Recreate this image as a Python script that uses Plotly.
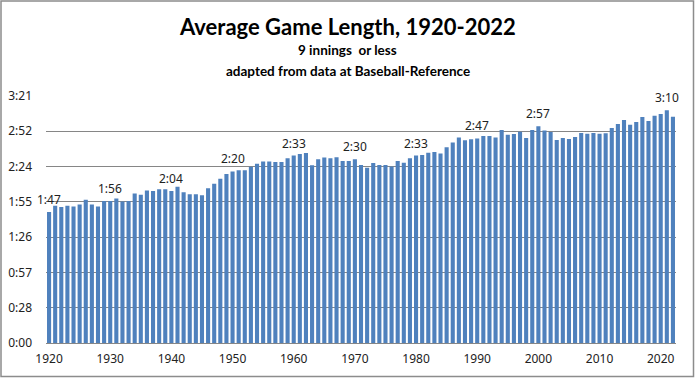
import plotly.graph_objects as go

years = list(range(1920, 2023))
avg_minutes = [
    107, 112, 111, 112, 111.5, 113, 117, 113, 111.5, 116,          # 1920s
    116, 118, 115.5, 116, 122, 121, 124.5, 124, 125.5, 125.5,      # 1930s
    124, 127.5, 123, 121.5, 121.5, 120.5, 126.3, 130, 134, 138,    # 1940s
    140, 141, 141, 143.8, 146.3, 148.2, 148.2, 147.7, 147.7, 150.7,  # 1950s
    153, 154.2, 155, 145, 150, 151.5, 150.7, 151.7, 148.5, 148.5,  # 1960s
    150, 145.2, 143, 146.9, 145.2, 145.2, 144.1, 148.5, 147.1, 150.7,  # 1970s
    153, 153.4, 155.3, 155.8, 154.7, 159.7, 163.7, 167.8, 165.4, 166.2,  # 1980s
    167, 168.9, 168.9, 167.8, 173.8, 170, 170.5, 172.4, 167.3, 173.8,  # 1990s
    177, 173.5, 172.2, 165.7, 167.3, 166.5, 168.1, 171.4, 170.8, 171.4,  # 2000s
    170.8, 171.1, 175.5, 178.7, 182, 178.2, 180.4, 184.4, 181.2, 185.5,  # 2010s
    187, 190, 184.7,                                                # 2020s
]

label_years = [1920, 1930, 1940, 1950, 1960, 1970, 1980, 1990, 2000, 2021]
label_texts = ["1:47", "1:56", "2:04", "2:20", "2:33", "2:30", "2:33", "2:47", "2:57", "3:10"]

y_tick_vals = [0, 28.8, 57.6, 86.4, 115.2, 144.0, 172.8, 201.6]
y_tick_text = ["0:00", "0:28", "0:57", "1:26", "1:55", "2:24", "2:52", "3:21"]
x_tick_vals = list(range(1920, 2021, 10))

title_lines = ["Average Game Length, 1920-2022", "9 innings  or less",
               "adapted from data at Baseball-Reference"]

W, H = 695, 378
ML, MR, MT, MB = 46, 19, 96, 35
PH = H - MT - MB
PW = W - ML - MR


def py(px):
    return 1 - (px - MT) / PH


def pxx(px):
    return (px - ML) / PW


fig = go.Figure()
fig.add_trace(go.Bar(
    x=years, y=avg_minutes,
    marker=dict(color="#4F81BD", line=dict(width=0)),
    hoverinfo="skip",
))

for yr, txt in zip(label_years, label_texts):
    fig.add_annotation(
        x=yr, y=avg_minutes[years.index(yr)], text=txt, showarrow=False,
        yanchor="bottom", yshift=2,
        font=dict(family="Noto Sans", size=12, color="#222222"),
    )

title_specs = [(title_lines[0], 27, 22), (title_lines[1], 50, 13.5), (title_lines[2], 71, 13.5)]
for txt, ypix, fs in title_specs:
    fig.add_annotation(
        x=pxx(W / 2), xref="paper", y=py(ypix), yref="paper",
        text="<b>" + txt + "</b>", showarrow=False,
        xanchor="center", yanchor="middle",
        font=dict(family="Lato", size=fs, color="#000000"),
    )

fig.add_shape(
    type="rect", xref="paper", yref="paper",
    x0=pxx(1), x1=pxx(W - 1.5), y0=py(H - 1.5), y1=py(1),
    line=dict(color="#8c8c8c", width=1.5), fillcolor="rgba(0,0,0,0)",
)

fig.update_layout(
    width=W, height=H,
    margin=dict(l=ML, r=MR, t=MT, b=MB, pad=0, autoexpand=False),
    paper_bgcolor="white", plot_bgcolor="white",
    bargap=0.33, showlegend=False,
)
fig.update_xaxes(
    range=[1919.5, 2022.5], tickmode="array", tickvals=x_tick_vals,
    ticks="", showgrid=False, showline=True, linecolor="#868686", linewidth=1,
    tickfont=dict(family="Noto Sans", size=12, color="#222222"),
    zeroline=False, ticklabelstandoff=5,
)
fig.update_yaxes(
    range=[0, 201.6], tickmode="array", tickvals=y_tick_vals, ticktext=y_tick_text,
    showgrid=True, gridcolor="#868686", gridwidth=1, ticks="", ticklen=0,
    showline=False, zeroline=False, ticklabelstandoff=13,
    tickfont=dict(family="Noto Sans", size=12, color="#222222"),
)

fig.write_html(
    "out.html",
    config={"displayModeBar": False, "staticPlot": True},
    post_script="document.body.style.margin='0';document.body.style.overflow='hidden';",
)
